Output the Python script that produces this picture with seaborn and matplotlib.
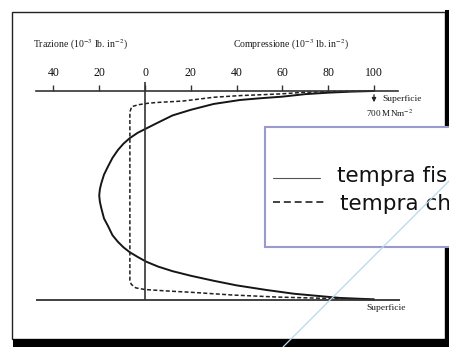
import matplotlib
matplotlib.use("Agg")
import numpy as np
import pandas as pd
import matplotlib.pyplot as plt
import seaborn as sns
from matplotlib.patches import Rectangle
from matplotlib.lines import Line2D

# ---------------- data ----------------
tick_values = [-40, -20, 0, 20, 40, 60, 80, 100]
tick_labels = ["40", "20", "0", "20", "40", "60", "80", "100"]

# stress (10^-3 lb in^-2, positive = compression) vs. normalised depth (0 = top surface, 1 = bottom surface)
fisica_stress = [100, 90, 80, 70, 60, 50, 41.5, 30, 20, 12, 5.5, 0.6, -3.2, -6.7, -9.4, -11.8,
                 -14.2, -16.2, -17.9, -19.1, -19.7, -20, -19.7, -19.1, -17.9, -16.2, -14.2,
                 -11.8, -9.4, -6.7, -3.2, 0.6, 5.7, 12, 20, 30, 40, 53, 65, 75, 85, 100]
fisica_depth = [0.0, 0.003, 0.008, 0.015, 0.027, 0.035, 0.043, 0.062, 0.09, 0.117, 0.152, 0.179,
                0.2, 0.226, 0.252, 0.282, 0.32, 0.362, 0.40, 0.442, 0.47, 0.5, 0.53, 0.56,
                0.61, 0.645, 0.69, 0.722, 0.748, 0.771, 0.794, 0.817, 0.84, 0.862, 0.884,
                0.908, 0.93, 0.952, 0.97, 0.98, 0.99, 0.997]

chimica_stress = [100, 85, 70, 59, 41.5, 30, 16.6, 5, 1, -3, -5.8, -6.6, -6.6, -6.6, -6.6,
                  -6, -4, 0, 10, 20, 38, 58, 85, 100]
chimica_depth = [0.0, 0.002, 0.006, 0.014, 0.022, 0.03, 0.048, 0.055, 0.059, 0.066, 0.075, 0.1,
                 0.5, 0.9, 0.905, 0.925, 0.942, 0.95, 0.957, 0.963, 0.976, 0.986, 0.994, 0.997]

legend_labels = ["tempra fisica", "tempra chimica"]
label_trazione = "Trazione (10$^{-3}$ lb. in$^{-2}$)"
label_compressione = "Compressione (10$^{-3}$ lb. in$^{-2}$)"
label_superficie = "Superficie"
label_mpa = "700 MNm$^{-2}$"

# ---------------- figure ----------------
W, H = 449, 347
sns.set_theme(style="white")
plt.rcParams["font.family"] = ["Liberation Serif", "DejaVu Serif"]
plt.rcParams["mathtext.fontset"] = "stix"

fig = plt.figure(figsize=(W / 100, H / 100), dpi=100)
fig.patch.set_facecolor("white")
ax = fig.add_axes([0, 0, 1, 1])
ax.set_facecolor("white")


def fx(px):
    return px / W


def fy(py):
    return 1 - py / H


df_f = pd.DataFrame({"stress": fisica_stress, "depth": fisica_depth})
df_c = pd.DataFrame({"stress": chimica_stress, "depth": chimica_depth})

sns.lineplot(data=df_f, x="stress", y="depth", sort=False, estimator=None,
             color="#151515", lw=1.4, ax=ax)
sns.lineplot(data=df_c, x="stress", y="depth", sort=False, estimator=None,
             color="#202020", lw=1.1, ax=ax)
for ln in ax.lines:
    ln.set_solid_joinstyle("round")
    ln.set_dash_joinstyle("round")
ax.lines[-1].set_linestyle((0, (2.6, 1.5)))

# scale: 0 at x=145px, 2.29 px per unit ; depth 0 at y=91px, 1 at y=300px
ax.set_xlim(-145 / 2.29, (W - 145) / 2.29)
ax.set_ylim((H - 91) / 209, -91 / 209)
ax.set_xlabel("")
ax.set_ylabel("")
ax.set_yticks([])

for s in ["left", "right", "bottom"]:
    ax.spines[s].set_visible(False)
ax.spines["top"].set_position(("data", 0))
ax.spines["top"].set_bounds(-47.6, 110.5)
ax.spines["top"].set_color("#333333")
ax.spines["top"].set_linewidth(1.2)
ax.xaxis.set_ticks_position("top")
ax.set_xticks(tick_values, tick_labels)
ax.tick_params(axis="x", direction="out", length=4.3, width=1.0, color="#333333",
               pad=4.6, labelsize=8.5, labelcolor="#111111")

# zero line and bottom surface line
ax.vlines(0, -0.043, 1.0, color="#333333", lw=1.2)
ax.hlines(1.0, -47.6, 111.4, color="#333333", lw=1.3)

# surface arrow
ax.annotate("", xy=(100, (105 - 91) / 209), xytext=(100, (92 - 91) / 209),
            arrowprops=dict(arrowstyle="-|>", color="#222222", lw=0.9, mutation_scale=6))

tc = "#1a1a1a"
fig.text(fx(33), fy(45), label_trazione, fontsize=7.0, va="center", ha="left", color=tc)
fig.text(fx(233), fy(45), label_compressione, fontsize=7.0, va="center", ha="left", color=tc)
fig.text(fx(382), fy(99), label_superficie, fontsize=6.8, va="center", ha="left", color=tc)
fig.text(fx(366), fy(113), label_mpa, fontsize=6.6, va="center", ha="left", color=tc)
fig.text(fx(366), fy(308), label_superficie, fontsize=6.8, va="center", ha="left", color=tc)

# page frame with shadow
fig.add_artist(Rectangle((fx(12), fy(339)), (445 - 12) / W, (339 - 12) / H,
                         transform=fig.transFigure, fill=False, ec="#222222", lw=1.0))
fig.add_artist(Rectangle((fx(445), fy(347)), 5 / W, (347 - 10) / H,
                         transform=fig.transFigure, fc="black", ec="none"))
fig.add_artist(Rectangle((fx(13), fy(346.5)), (W - 13) / W, 7.5 / H,
                         transform=fig.transFigure, fc="black", ec="none"))

# overlay legend box (cut at the right edge)
fig.add_artist(Rectangle((fx(265), fy(247)), (480 - 265) / W, 120 / H,
                         transform=fig.transFigure, fc="white", ec="#9a9ad0", lw=1.5,
                         zorder=5))
fig.add_artist(Line2D([fx(273), fx(320)], [fy(178), fy(178)], transform=fig.transFigure,
                      color="#555555", lw=0.8, zorder=6))
fig.add_artist(Line2D([fx(273), fx(324)], [fy(202), fy(202)], transform=fig.transFigure,
                      color="#222222", lw=1.2, dashes=(4.2, 2.3), zorder=6))
fig.text(fx(337), fy(176.5), legend_labels[0], fontsize=15.5, family=["DejaVu Sans"],
         va="center", ha="left", color="#111111", zorder=6)
fig.text(fx(340), fy(203.5), legend_labels[1], fontsize=15.5, family=["DejaVu Sans"],
         va="center", ha="left", color="#111111", zorder=6)

# faint diagonal line
fig.add_artist(Line2D([fx(283), fx(449)], [fy(347), fy(181)], transform=fig.transFigure,
                      color="#b5d9f2", lw=0.9, zorder=7))

fig.savefig("out.png", dpi=100)
